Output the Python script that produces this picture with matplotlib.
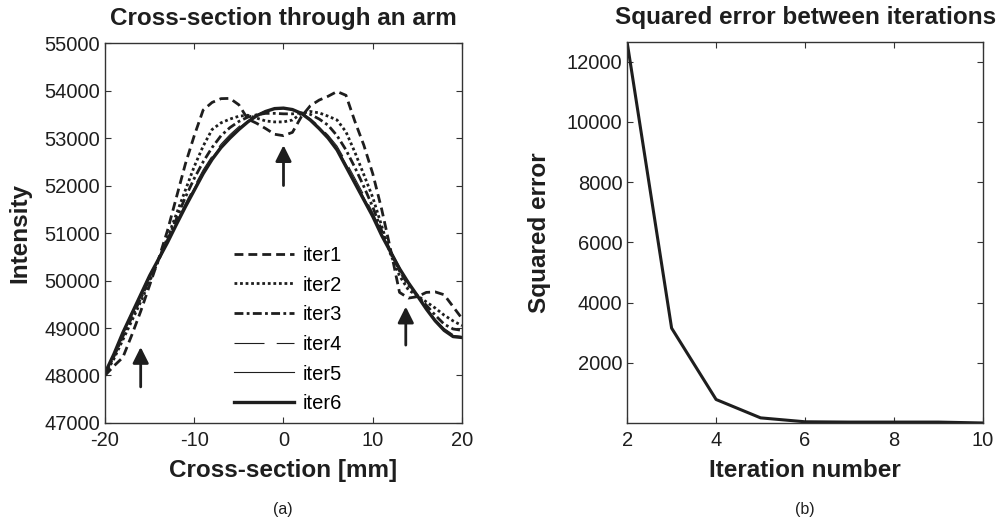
import numpy as np
import matplotlib
matplotlib.use('Agg')
import matplotlib.pyplot as plt

plt.rcParams['font.family'] = ['Liberation Sans', 'DejaVu Sans']
plt.rcParams['axes.unicode_minus'] = False

# profil a travers le bras, une courbe par iteration
x_mm = np.arange(-20, 21)
iter1 = [48000, 48200, 48380, 48850, 49350, 49900, 50450, 51050, 51750, 52450, 53050,
         53590, 53750, 53830, 53835, 53700, 53400, 53310, 53200, 53080, 53050,
         53120, 53450, 53680, 53800, 53880, 53980, 53900, 53350, 52850, 52250,
         51500, 50650, 49750, 49630, 49660, 49750, 49760, 49700, 49450, 49200]
iter2 = [48020, 48350, 48750, 49150, 49550, 49980, 50430, 50900, 51400, 51900, 52400,
         52830, 53180, 53320, 53400, 53460, 53480, 53420, 53360, 53340, 53340,
         53380, 53520, 53560, 53530, 53460, 53380, 53130, 52700, 52230, 51750,
         51150, 50550, 50100, 49800, 49680, 49550, 49420, 49270, 49150, 49050]
iter3 = [48030, 48400, 48820, 49220, 49620, 50030, 50430, 50850, 51300, 51750, 52150,
         52500, 52800, 53050, 53220, 53350, 53440, 53490, 53520, 53520, 53510,
         53510, 53530, 53500, 53400, 53270, 53050, 52750, 52380, 51980, 51550,
         51050, 50600, 50200, 49900, 49680, 49480, 49270, 49080, 48980, 48950]
iter4 = [48060, 48460, 48920, 49320, 49720, 50120, 50470, 50830, 51230, 51620, 51980,
         52330, 52620, 52870, 53070, 53240, 53380, 53490, 53570, 53610, 53610,
         53590, 53530, 53410, 53250, 53060, 52830, 52500, 52150, 51800, 51430,
         51020, 50640, 50280, 49970, 49680, 49420, 49180, 48990, 48860, 48840]
iter5 = [48055, 48455, 48910, 49310, 49710, 50110, 50460, 50815, 51205, 51585, 51940,
         52290, 52585, 52835, 53035, 53210, 53360, 53480, 53565, 53615, 53620,
         53595, 53525, 53395, 53225, 53030, 52790, 52450, 52100, 51750, 51390,
         50985, 50620, 50265, 49960, 49680, 49410, 49165, 48970, 48840, 48820]
iter6 = [48050, 48450, 48900, 49300, 49700, 50100, 50450, 50800, 51180, 51550, 51900,
         52250, 52550, 52800, 53000, 53180, 53340, 53470, 53560, 53620, 53630,
         53600, 53520, 53380, 53200, 53000, 52750, 52400, 52050, 51700, 51350,
         50950, 50600, 50250, 49950, 49680, 49400, 49150, 48950, 48820, 48800]

# fleches (x, debut, fin)
fleches = [(-16, 47760, 48600), (0, 52000, 52850), (13.7, 48640, 49450)]

# erreur quadratique entre iterations
iterations = [2, 3, 4, 5, 6, 7, 8, 9, 10]
erreur = [12650, 3150, 780, 170, 40, 30, 30, 30, 0]

noir = '#1e1e1e'

fig = plt.figure(figsize=(9.97, 5.19), dpi=100)
ax1 = fig.add_axes([0.1053, 0.185, 0.3581, 0.732])
ax2 = fig.add_axes([0.629, 0.185, 0.357, 0.734])

ax1.plot(x_mm, iter1, color=noir, lw=2.0, dashes=(3.2, 1.8), label='iter1')
ax1.plot(x_mm, iter2, color=noir, lw=2.0, dashes=(1.0, 1.0), label='iter2')
ax1.plot(x_mm, iter3, color=noir, lw=2.0, dashes=(3.2, 1.2, 1.0, 1.2), label='iter3')
ax1.plot(x_mm, iter4, color=noir, lw=0.8, dashes=(27, 11), label='iter4')
ax1.plot(x_mm, iter5, color=noir, lw=0.8, label='iter5')
ax1.plot(x_mm, iter6, color=noir, lw=2.4, label='iter6')

for xf, y0, y1 in fleches:
    ax1.annotate('', xy=(xf, y1), xytext=(xf, y0),
                 arrowprops=dict(arrowstyle='-|>', color=noir, lw=2,
                                 mutation_scale=24, shrinkA=0, shrinkB=0))

ax1.set_xlim(-20, 20)
ax1.set_ylim(47000, 55000)
ax1.set_xticks([-20, -10, 0, 10, 20])
ax1.set_yticks(np.arange(47000, 55001, 1000))
ax1.set_title('Cross-section through an arm', fontsize=17.5, fontweight='bold', pad=13)
ax1.set_xlabel('Cross-section [mm]', fontsize=17.5, fontweight='bold', labelpad=6)
ax1.set_ylabel('Intensity', fontsize=17.5, fontweight='bold', labelpad=9)
ax1.legend(loc='lower left', bbox_to_anchor=(0.31, -0.022), frameon=False,
           fontsize=14.5, handlelength=3.0, labelspacing=0.53, handletextpad=0.4)
fig.text(0.284, 0.01, '(a)', ha='center', fontsize=11.5, color=noir)

ax2.plot(iterations, erreur, color=noir, lw=2.2)
ax2.set_xlim(2, 10)
ax2.set_ylim(0, 12650)
ax2.set_xticks([2, 4, 6, 8, 10])
ax2.set_yticks([2000, 4000, 6000, 8000, 10000, 12000])
ax2.set_title('Squared error between iterations', fontsize=17.5, fontweight='bold', pad=13)
ax2.set_xlabel('Iteration number', fontsize=17.5, fontweight='bold', labelpad=6)
ax2.set_ylabel('Squared error', fontsize=17.5, fontweight='bold', labelpad=11)
fig.text(0.807, 0.01, '(b)', ha='center', fontsize=11.5, color=noir)

for ax in (ax1, ax2):
    ax.tick_params(direction='in', top=True, right=True, labelsize=14.5,
                   length=4, width=0.8, colors='#333333', labelcolor=noir)
    ax.tick_params(axis='x', pad=6)
    for s in ax.spines.values():
        s.set_color('#333333')
        s.set_linewidth(1.0)
    ax.xaxis.label.set_color(noir)
    ax.yaxis.label.set_color(noir)
    ax.title.set_color(noir)

fig.savefig('out.png', dpi=100)
